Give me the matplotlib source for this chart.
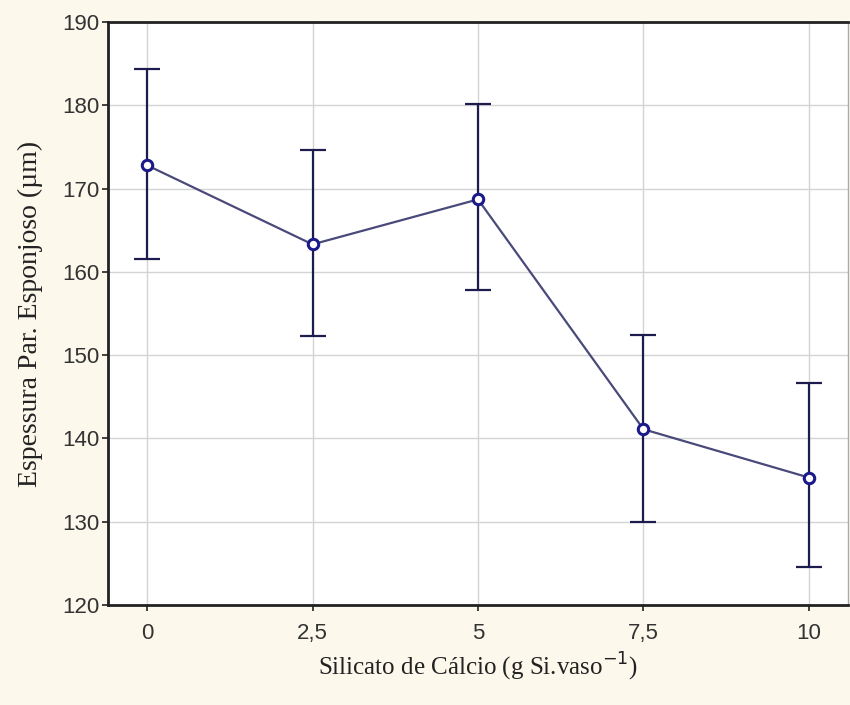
import matplotlib.pyplot as plt

# Silicato de calcio doses and means
doses = [0, 2.5, 5, 7.5, 10]
means = [172.8, 163.3, 168.7, 141.1, 135.3]
upper = [184.3, 174.6, 180.1, 152.4, 146.7]
lower = [161.6, 152.3, 157.8, 130.0, 124.6]
xtick_labels = ['0', '2,5', '5', '7,5', '10']
yticks = [120, 130, 140, 150, 160, 170, 180, 190]

err_low = [m - lo for m, lo in zip(means, lower)]
err_high = [hi - m for m, hi in zip(means, upper)]

fig = plt.figure(figsize=(8.5, 7.05), dpi=100, facecolor='#fcf8ec')
ax = fig.add_axes([108 / 850, 100 / 705, 740 / 850, 583 / 705])
ax.set_facecolor('white')

ax.errorbar(doses, means, yerr=[err_low, err_high], fmt='none',
            ecolor='#1c1c4e', elinewidth=1.6, capsize=9.5, capthick=1.6, zorder=3)
ax.plot(doses, means, '-', color='#4a4a7a', lw=1.6, zorder=4)
ax.plot(doses, means, 'o', ms=7.5, mfc='white', mec='#1a1a8a', mew=2.2, zorder=5)

ax.set_xlim(-0.59, 10.59)
ax.set_ylim(120, 190)
ax.set_xticks(doses)
ax.set_xticklabels(xtick_labels)
ax.set_yticks(yticks)
ax.grid(True, color='#d4d4d4', lw=1)
ax.set_axisbelow(True)

for s in ['left', 'bottom', 'top']:
    ax.spines[s].set_color('#222222')
    ax.spines[s].set_linewidth(2)
ax.spines['right'].set_color('#aaaaaa')
ax.spines['right'].set_linewidth(1)

ax.tick_params(axis='both', direction='out', length=4, width=1.2, color='#222222',
               labelsize=16, labelcolor='#333333')
ax.tick_params(axis='y', pad=2)
ax.tick_params(axis='x', pad=9)
for lab in ax.get_xticklabels() + ax.get_yticklabels():
    lab.set_family('Liberation Sans')

ax.set_xlabel('Silicato de Cálcio (g Si.vaso$^{-1}$)', family='Liberation Serif',
              fontsize=18, color='#222222', labelpad=5)
ax.set_ylabel('Espessura Par. Esponjoso (µm)', family='Liberation Serif',
              fontsize=20, color='#222222', labelpad=14)

fig.savefig('out.png', dpi=100, facecolor=fig.get_facecolor())
